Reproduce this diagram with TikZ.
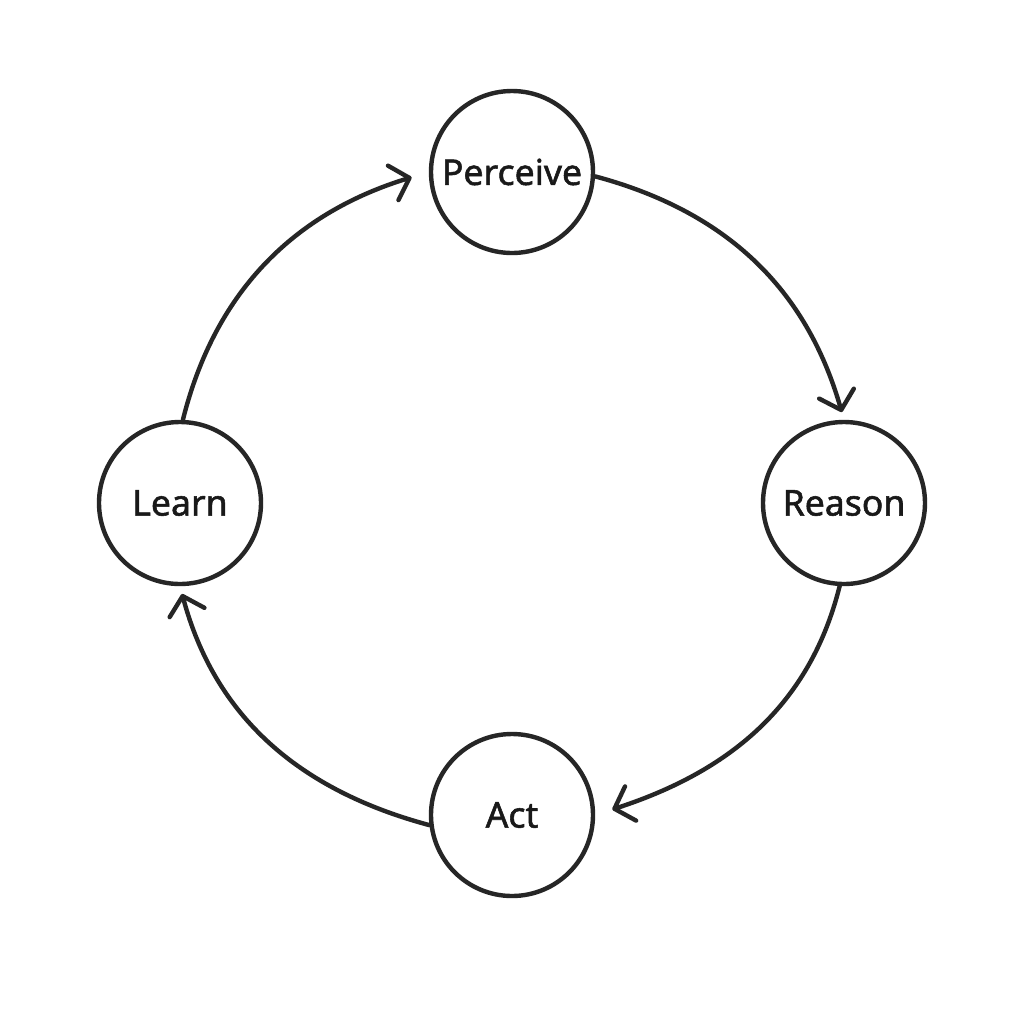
\documentclass[tikz,border=0pt]{standalone}
\usepackage{fontspec}
\setmainfont{Noto Sans}
\newfontfamily\labelfont[FakeBold=1.5]{Noto Sans}
\usetikzlibrary{arrows.meta}
\begin{document}
\begin{tikzpicture}[x=0.5pt,y=-0.5pt,
  stage/.style={circle, draw=black!85, line width=2.2pt, minimum size=81pt, inner sep=0pt, text=black!90, font=\labelfont\fontsize{17.8}{20}\selectfont},
  flow/.style={draw=black!85, line width=2.2pt, line cap=round,
    -{Straight Barb[length=8.5pt,width=18pt,line cap=round,line join=round]}}]
\useasboundingbox (0,0) rectangle (1024,1024);
\fill[white] (0,0) rectangle (1024,1024);
\node[stage] (perceive) at (512,172) {Perceive};
\node[stage] (reason) at (844,503) {Reason};
\node[stage] (act) at (512,815) {Act};
\node[stage] (learn) at (180,503) {Learn};
\draw[flow, shorten >=9pt] (learn.88) to[out=76,in=197] (perceive.west);
\draw[flow, shorten >=4pt] (perceive.-3) to[out=-15,in=106] (reason.north);
\draw[flow, shorten >=9pt] (reason.-93) to[out=-104,in=18] (act.east);
\draw[flow, shorten >=4pt] (act.187) to[out=165,in=-75] (learn.south);
\end{tikzpicture}
\end{document}
